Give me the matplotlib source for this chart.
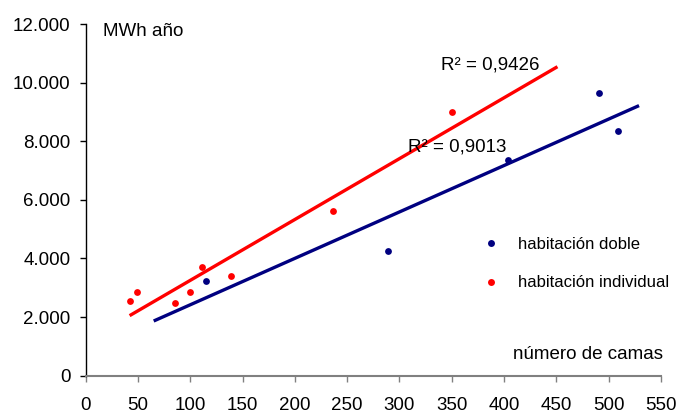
import numpy as np
import matplotlib
matplotlib.use("Agg")
import matplotlib.pyplot as plt
from matplotlib.lines import Line2D
from matplotlib.ticker import FuncFormatter

plt.rcParams['font.family'] = ['Liberation Sans', 'DejaVu Sans']

# Data
doble_camas = [115, 289, 404, 491, 509]
doble_mwh = [3220, 4265, 7360, 9635, 8340]
indiv_camas = [42, 49, 85, 100, 111, 139, 236, 350]
indiv_mwh = [2550, 2855, 2490, 2855, 3720, 3410, 5620, 9010]
doble_fit_range = [65, 529]
indiv_fit_range = [42, 451]
doble_r2_label = "R² = 0,9013"
indiv_r2_label = "R² = 0,9426"
series_names = ["habitación doble", "habitación individual"]
x_ticks = list(range(0, 551, 50))
y_ticks = list(range(0, 12001, 2000))

navy = "#000080"
red = "#FF0000"
FS = 13.5

fig = plt.figure(figsize=(6.79, 4.12), dpi=100)
ax = fig.add_axes([85.7 / 679, 1 - 375.7 / 412, 575.3 / 679, 351.7 / 412])

# scatter points
ax.scatter(doble_camas, doble_mwh, s=24, color=navy, zorder=3, linewidths=0)
ax.scatter(indiv_camas, indiv_mwh, s=24, color=red, zorder=3, linewidths=0)

# linear trend lines
for xs, ys, rng, col in [(doble_camas, doble_mwh, doble_fit_range, navy),
                         (indiv_camas, indiv_mwh, indiv_fit_range, red)]:
    m, b = np.polyfit(xs, ys, 1)
    xx = np.array(rng, dtype=float)
    ax.plot(xx, m * xx + b, color=col, lw=2.4, solid_capstyle='butt', zorder=2)

ax.text(339.4, 10454, indiv_r2_label, fontsize=FS, va='baseline', ha='left')
ax.text(308, 7642, doble_r2_label, fontsize=FS, va='baseline', ha='left')

ax.set_xlim(0, 550)
ax.set_ylim(0, 12000)
ax.set_xticks(x_ticks)
ax.set_yticks(y_ticks)
ax.yaxis.set_major_formatter(FuncFormatter(lambda v, p: f"{int(v):,}".replace(",", ".")))

for s in ['top', 'right']:
    ax.spines[s].set_visible(False)
ax.spines['left'].set_color('black')
ax.spines['left'].set_linewidth(1.0)
ax.spines['bottom'].set_color('#808080')
ax.spines['bottom'].set_linewidth(1.5)

ax.tick_params(axis='y', direction='out', length=4, width=1, color='black',
               labelsize=FS, pad=7)
ax.tick_params(axis='x', direction='out', length=4, width=1, color='#808080',
               labelsize=FS, pad=11)

ax.text(0.0306, 0.978, "MWh año", transform=ax.transAxes, fontsize=FS,
        ha='left', va='center')
ax.text(1.003, 0.0589, "número de camas", transform=ax.transAxes, fontsize=FS,
        ha='right', va='center')

handles = [Line2D([], [], ls='none', marker='o', ms=5, color=navy, mec='none'),
           Line2D([], [], ls='none', marker='o', ms=5, color=red, mec='none')]
fig.legend(handles, series_names, loc='center left',
           bbox_to_anchor=(482.7 / 679, 1 - 263.7 / 412),
           bbox_transform=fig.transFigure, frameon=False, fontsize=12,
           handlelength=1, handletextpad=1.1, labelspacing=1.4, borderpad=0,
           borderaxespad=0)

fig.savefig("out.png", dpi=100)
